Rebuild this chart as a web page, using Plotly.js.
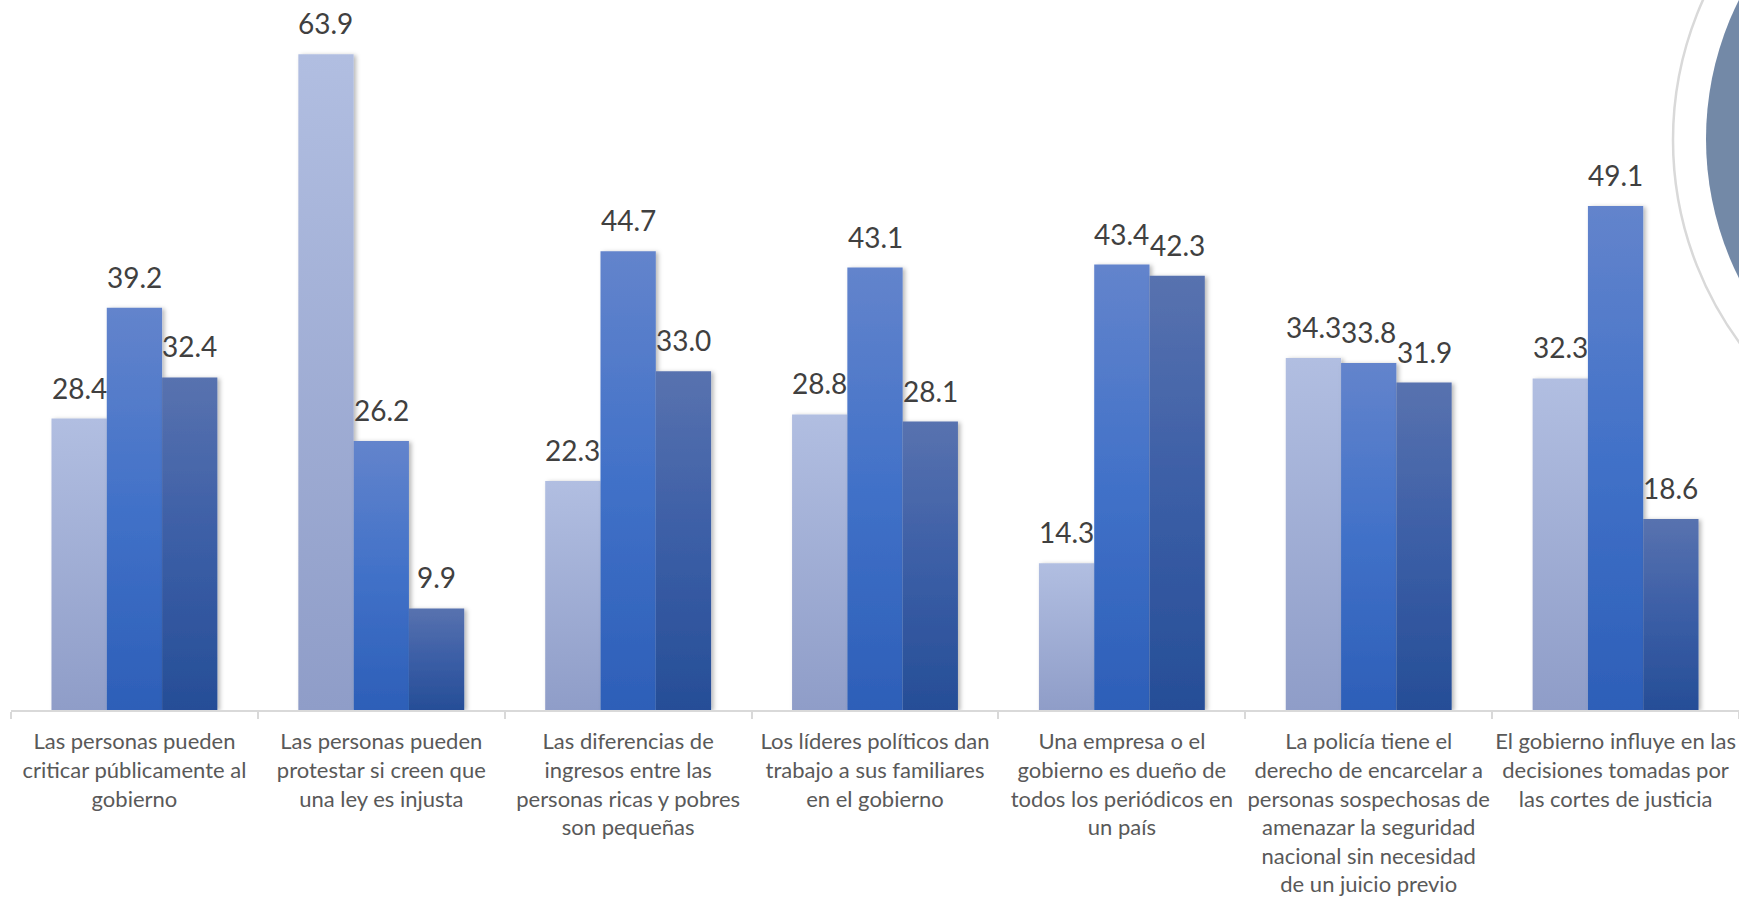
<!DOCTYPE html>
<html>
<head>
<meta charset="utf-8">
<script src="https://cdn.plot.ly/plotly-3.0.1.min.js"></script>
<style>
  html, body { margin: 0; padding: 0; background: #ffffff; }
  #chart { width: 1739px; height: 899px; }
</style>
</head>
<body>
<div id="chart"></div>
<script>
// ---- Data ----
const categories = [
  "Las personas pueden<br>criticar públicamente al<br>gobierno",
  "Las personas pueden<br>protestar si creen que<br>una ley es injusta",
  "Las diferencias de<br>ingresos entre las<br>personas ricas y pobres<br>son pequeñas",
  "Los líderes políticos dan<br>trabajo a sus familiares<br>en el gobierno",
  "Una empresa o el<br>gobierno es dueño de<br>todos los periódicos en<br>un país",
  "La policía tiene el<br>derecho de encarcelar a<br>personas sospechosas de<br>amenazar la seguridad<br>nacional sin necesidad<br>de un juicio previo",
  "El gobierno influye en las<br>decisiones tomadas por<br>las cortes de justicia"
];
const seriesNames = ["Serie 1", "Serie 2", "Serie 3"];
const serie1 = [28.4, 63.9, 22.3, 28.8, 14.3, 34.3, 32.3];
const serie2 = [39.2, 26.2, 44.7, 43.1, 43.4, 33.8, 49.1];
const serie3 = [32.4, 9.9, 33.0, 28.1, 42.3, 31.9, 18.6];

// ---- Styles ----
const seriesValues = [serie1, serie2, serie3];
const baseColors = ["#A3B1DA", "#4472C4", "#3A5FA8"];
const gradStops = [
  ["#B1BEE1", "#8F9DC8"],
  ["#6384CC", "#4171C8", "#2D5FB8"],
  ["#5872AF", "#3B5EA6", "#264E97"]
];
const bargap = 0.328;
const labelFont = "Lato, 'Open Sans', sans-serif";

const traces = seriesValues.map((vals, k) => ({
  type: "bar",
  name: seriesNames[k],
  x: categories,
  y: vals,
  marker: { color: baseColors[k], line: { width: 0 } },
  hoverinfo: "skip",
  showlegend: false
}));

const barW = (1 - bargap) / 3;
const annotations = [];
seriesValues.forEach((vals, k) => {
  vals.forEach((v, i) => {
    annotations.push({
      xref: "x", yref: "y",
      x: i + (k - 1) * barW,
      y: v,
      text: v.toFixed(1),
      showarrow: false,
      yanchor: "bottom",
      xanchor: "center",
      yshift: 12,
      font: { family: labelFont, size: 28, color: "#404040" }
    });
  });
});

// plot area: x 11..1739, y 10..710
const px = v => (v - 11) / 1728;
const py = v => (710 - v) / 700;
const shapes = [
  { type: "circle", xref: "paper", yref: "paper",
    x0: px(1706), x1: px(2326), y0: py(449), y1: py(-171),
    fillcolor: "#7389A7", line: { width: 0 }, layer: "below" },
  { type: "circle", xref: "paper", yref: "paper",
    x0: px(1673), x1: px(2357), y0: py(482), y1: py(-202),
    fillcolor: "rgba(0,0,0,0)", line: { color: "#D9D9D9", width: 2.5 }, layer: "below" }
];

const layout = {
  width: 1739,
  height: 899,
  margin: { l: 11, r: 0, t: 10, b: 189 },
  paper_bgcolor: "#ffffff",
  plot_bgcolor: "rgba(0,0,0,0)",
  barmode: "group",
  bargap: bargap,
  bargroupgap: 0,
  showlegend: false,
  hovermode: false,
  xaxis: {
    type: "category",
    showgrid: false,
    zeroline: false,
    showline: true,
    linecolor: "#D9D9D9",
    linewidth: 2,
    ticks: "outside",
    tickson: "boundaries",
    ticklen: 7,
    tickwidth: 2,
    tickcolor: "#D9D9D9",
    ticklabelstandoff: 11,
    tickfont: { family: labelFont, size: 22, color: "#595959" },
    tickangle: 0,
    automargin: false
  },
  yaxis: {
    range: [0, 68.2],
    visible: false,
    showgrid: false,
    zeroline: false,
    fixedrange: true
  },
  annotations: annotations,
  shapes: shapes
};

function applyGradients(gd) {
  const svg = gd.querySelector(".main-svg");
  if (!svg) return;
  const NS = "http://www.w3.org/2000/svg";
  let defs = svg.querySelector("defs");
  if (!defs) { defs = document.createElementNS(NS, "defs"); svg.insertBefore(defs, svg.firstChild); }
  if (!defs.querySelector("#barShadow")) {
    const f = document.createElementNS(NS, "filter");
    f.setAttribute("id", "barShadow");
    f.setAttribute("x", "-20%"); f.setAttribute("y", "-5%");
    f.setAttribute("width", "150%"); f.setAttribute("height", "115%");
    const ds = document.createElementNS(NS, "feDropShadow");
    ds.setAttribute("dx", "2.5"); ds.setAttribute("dy", "1");
    ds.setAttribute("stdDeviation", "2");
    ds.setAttribute("flood-color", "#000000");
    ds.setAttribute("flood-opacity", "0.28");
    f.appendChild(ds);
    defs.appendChild(f);
    gradStops.forEach((stops, k) => {
      const lg = document.createElementNS(NS, "linearGradient");
      lg.setAttribute("id", "barGrad" + k);
      lg.setAttribute("x1", "0"); lg.setAttribute("y1", "0");
      lg.setAttribute("x2", "0"); lg.setAttribute("y2", "1");
      stops.forEach((c, j) => {
        const s = document.createElementNS(NS, "stop");
        s.setAttribute("offset", (j / (stops.length - 1)).toString());
        s.setAttribute("stop-color", c);
        lg.appendChild(s);
      });
      defs.appendChild(lg);
    });
  }
  const traceGroups = gd.querySelectorAll(".barlayer .trace");
  traceGroups.forEach((g, k) => {
    g.querySelectorAll(".point path").forEach(p => {
      p.style.fill = "url(#barGrad" + k + ")";
      p.style.filter = "url(#barShadow)";
    });
  });
}

const gd = document.getElementById("chart");
Plotly.newPlot(gd, traces, layout, { displayModeBar: false, staticPlot: true }).then(() => {
  applyGradients(gd);
  gd.on && gd.on("plotly_afterplot", () => applyGradients(gd));
});
</script>
</body>
</html>
